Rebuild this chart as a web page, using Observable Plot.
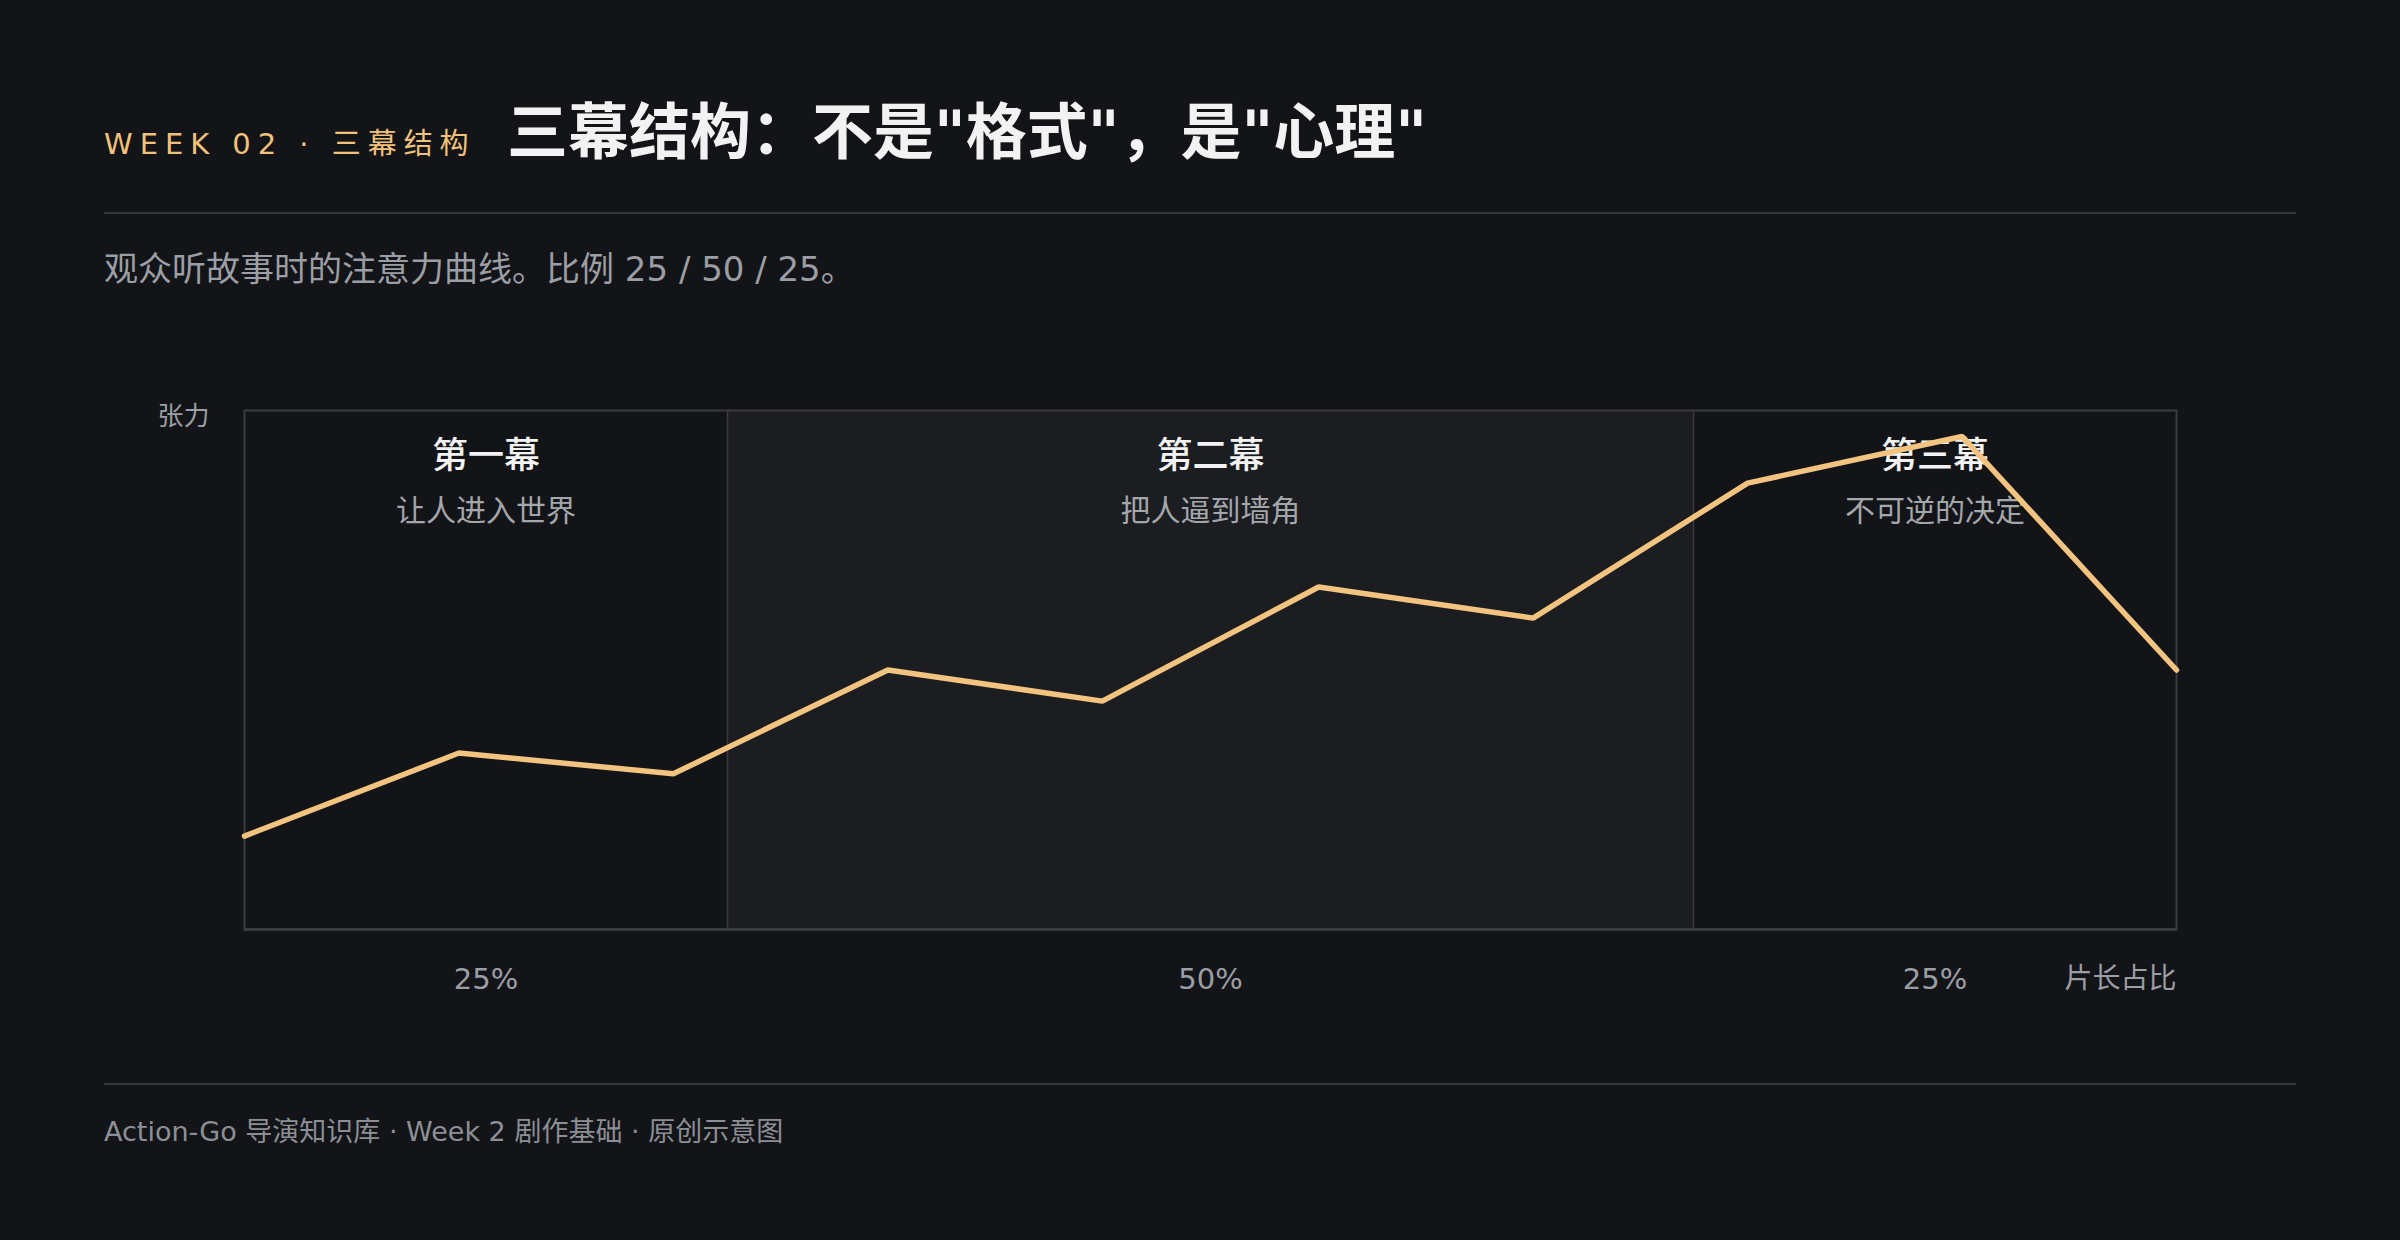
<!DOCTYPE html>
<html>
<head>
<meta charset="utf-8">
<script src="https://cdn.jsdelivr.net/npm/d3@7"></script>
<script src="https://cdn.jsdelivr.net/npm/@observablehq/plot@0.6"></script>
<style>
  html, body { margin: 0; padding: 0; background: #131418; }
  body { width: 2400px; height: 1240px; position: relative; overflow: hidden; font-family: "DejaVu Sans", "Noto Sans CJK SC", sans-serif; }
  .abs { position: absolute; white-space: nowrap; line-height: 1; }
  #kicker { left: 104px; top: 130px; font-size: 29px; letter-spacing: 0.24em; color: #f0c27b; }
  #title { left: 507px; top: 102px; font-size: 61px; font-weight: 700; color: #f2f2f2; }
  #rule1 { left: 104px; top: 212px; width: 2192px; height: 2px; background: #35363c; }
  #subtitle { left: 104px; top: 252px; font-size: 34px; color: #9b9ea4; }
  #chart { position: absolute; left: 0; top: 370px; }
  #rule2 { left: 104px; top: 1083px; width: 2192px; height: 2px; background: #35363c; }
  #footer { left: 104px; top: 1118px; font-size: 27px; color: #8c8f95; }
</style>
</head>
<body>
<div class="abs" id="kicker">WEEK 02 · 三幕结构</div>
<div class="abs" id="title">三幕结构：不是"格式"，是"心理"</div>
<div class="abs" id="rule1"></div>
<div class="abs" id="subtitle">观众听故事时的注意力曲线。比例 25 / 50 / 25。</div>
<div id="chart"></div>
<div class="abs" id="rule2"></div>
<div class="abs" id="footer">Action-Go 导演知识库 · Week 2 剧作基础 · 原创示意图</div>
<script>
// Story time (percent of running length) and audience tension
const storyTime = [0, 11.1, 22.2, 33.3, 44.4, 55.6, 66.7, 77.8, 88.9, 100];
const tension = [18, 34, 30, 50, 44, 66, 60, 86, 95, 50];

// Acts
const actNames = ["第一幕", "第二幕", "第三幕"];
const actSubs = ["让人进入世界", "把人逼到墙角", "不可逆的决定"];
const actStarts = [0, 25, 75];
const actEnds = [25, 75, 100];
const actShares = ["25%", "50%", "25%"];

const yLabel = "张力";
const xLabel = "片长占比";

const points = storyTime.map((t, i) => ({t, v: tension[i]}));
const acts = actNames.map((name, i) => ({
  name, sub: actSubs[i], start: actStarts[i], end: actEnds[i], share: actShares[i]
}));
const mid = d => (d.start + d.end) / 2;

const chart = Plot.plot({
  width: 2400,
  height: 660,
  marginTop: 40,
  marginLeft: 244,
  marginRight: 224,
  marginBottom: 101,
  x: {domain: [0, 100], axis: null},
  y: {domain: [0, 100], axis: null},
  style: {background: "transparent", fontFamily: "'DejaVu Sans', 'Noto Sans CJK SC', sans-serif", overflow: "visible"},
  marks: [
    Plot.rect(acts, {filter: (d, i) => i === 1, x1: "start", x2: "end", y1: 0, y2: 100, fill: "#1c1d21"}),
    Plot.ruleX(acts.slice(1), {x: "start", y1: 0, y2: 100, stroke: "#3a3b41", strokeWidth: 1.5}),
    Plot.frame({stroke: "#3a3b41", strokeWidth: 2}),
    Plot.ruleY([0], {stroke: "#3a3b41", strokeWidth: 3}),
    Plot.text(acts, {x: mid, y: 100, dy: 46, text: "name", fontSize: 36, fontWeight: 500, fill: "#f2f2f2"}),
    Plot.text(acts, {x: mid, y: 100, dy: 101, text: "sub", fontSize: 30, fill: "#a3a6ab"}),
    Plot.text(acts, {x: mid, y: 0, dy: 50, text: "share", fontSize: 29, fill: "#9b9ea4"}),
    Plot.text([xLabel], {x: 100, y: 0, dy: 50, text: d => d, textAnchor: "end", fontSize: 28, fill: "#9b9ea4"}),
    Plot.text([yLabel], {x: 0, y: 100, dx: -35, dy: 6, text: d => d, textAnchor: "end", fontSize: 26, fill: "#9b9ea4"}),
    Plot.line(points, {x: "t", y: "v", stroke: "#f2c47f", strokeWidth: 5.5, strokeLinejoin: "miter"})
  ]
});
document.getElementById("chart").appendChild(chart);
</script>
</body>
</html>
